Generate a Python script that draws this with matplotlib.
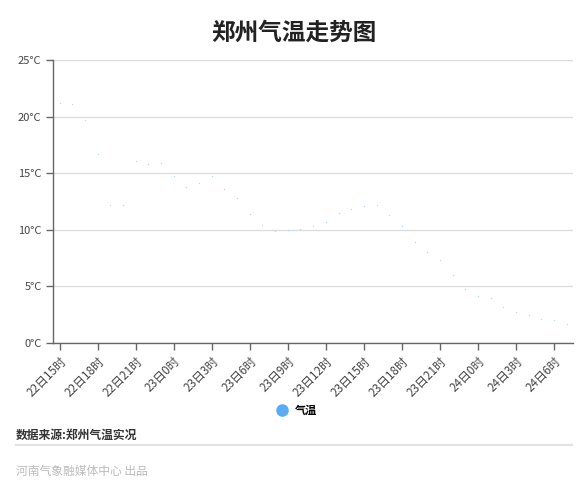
import matplotlib
matplotlib.use("Agg")
import matplotlib.pyplot as plt
from matplotlib.lines import Line2D
from matplotlib.ticker import FuncFormatter

plt.rcParams['font.family'] = ['Noto Sans CJK SC', 'DejaVu Sans']

# hourly observations, 22日15时 .. 24日7时
hours = [f"22日{h}时" for h in range(15, 24)] + \
        [f"23日{h}时" for h in range(0, 24)] + \
        [f"24日{h}时" for h in range(0, 8)]
temps = [21.2, 21.1, 19.7, 16.7, 12.2, 12.2, 16.1, 15.8, 15.9, 14.75,
         13.8, 14.1, 14.75, 13.6, 12.8, 11.4, 10.45, 9.9, 10.0, 10.1,
         10.3, 10.7, 11.5, 11.8, 12.1, 12.2, 11.3, 10.3, 8.95, 8.0,
         7.3, 6.0, 4.8, 4.15, 4.0, 3.15, 2.7, 2.5, 2.15, 2.0, 1.7]
yticks = [0, 5, 10, 15, 20, 25]

fig = plt.figure(figsize=(5.88, 5.0), dpi=100)
ax = fig.add_axes([53.3/588, 1-343/500, (573-53.3)/588, (343-60)/500])

xs = list(range(len(hours)))
ax.scatter(xs, temps, s=1.0, color='#b8d8f7', linewidths=0, zorder=3)

ax.set_xlim(-0.5, len(hours) - 0.5)
ax.set_ylim(0, 25)
ax.set_yticks(yticks)
ax.yaxis.set_major_formatter(FuncFormatter(lambda v, p: f"{int(v)}°C"))
ax.set_xticks(xs[::3])
ax.set_xticklabels(hours[::3], rotation=45, ha='right', rotation_mode='anchor')

ax.grid(axis='y', color='#dddddd', linewidth=1)
ax.set_axisbelow(True)
for s in ['top', 'right']:
    ax.spines[s].set_visible(False)
for s in ['left', 'bottom']:
    ax.spines[s].set_color('#666666')
    ax.spines[s].set_linewidth(1)
ax.tick_params(axis='both', colors='#666666', length=5, width=1,
               labelsize=8, labelcolor='#444444')
ax.tick_params(axis='x', labelsize=8.5)

fig.text(0.5, 1-33/500, "郑州气温走势图", ha='center', va='center',
         fontsize=17, fontweight='heavy', color='#222222')

handle = Line2D([], [], marker='o', linestyle='none', markersize=8,
                markerfacecolor='#5aabf6', markeredgecolor='#5aabf6')
fig.legend([handle], ["气温"], loc='center', bbox_to_anchor=(0.5, 1-410/500),
           frameon=False, handletextpad=0.1,
           prop={'size': 8, 'weight': 'bold'})

fig.text(16/588, 1-435/500, "数据来源:郑州气温实况", ha='left', va='center',
         fontsize=8.5, fontweight='bold', color='#333333')
fig.add_artist(Line2D([16/588, 572/588], [1-445/500, 1-445/500],
                      color='#e2e2e2', linewidth=1.5))
fig.text(16/588, 1-471/500, "河南气象融媒体中心 出品", ha='left', va='center',
         fontsize=8.5, color='#bbbbbb')

fig.savefig("out.png", dpi=100)
